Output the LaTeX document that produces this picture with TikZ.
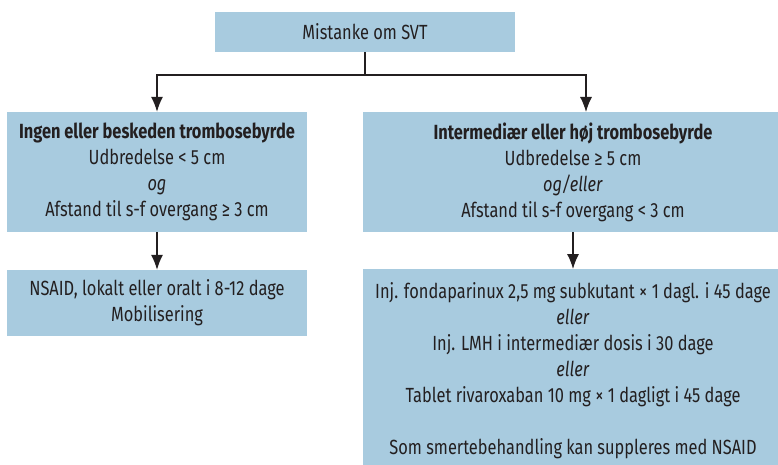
\documentclass[tikz,border=0pt]{standalone}
\usepackage{fontspec}
\setmainfont[FakeStretch=0.8]{Fira Sans}
\usetikzlibrary{arrows.meta}
\definecolor{boksblaa}{RGB}{168,203,223}
\definecolor{tekst}{RGB}{35,31,32}

\begin{document}
\begin{tikzpicture}[x=1pt,y=-1pt,>={Latex[length=15pt,width=12pt]},
  boks/.style={fill=boksblaa,text=tekst,align=center,inner sep=0pt,font=\fontsize{20.5}{26}\selectfont},
  pil/.style={draw=tekst,line width=1.2pt,->}]
\useasboundingbox (0,0) rectangle (778,465);

\node[boks,minimum width=300pt,minimum height=40pt] (svt) at (365,32) {Mistanke om SVT};

\node[boks,minimum width=300pt,minimum height=120pt] (lav) at (157,172)
  {\textbf{Ingen eller beskeden trombosebyrde}\\Udbredelse < 5 cm\\\textit{og}\\Afstand til s-f overgang ≥ 3 cm};
\node[boks,minimum width=420pt,minimum height=120pt] (hoj) at (573,172)
  {\textbf{Intermediær eller høj trombosebyrde}\\Udbredelse ≥ 5 cm\\\textit{og/eller}\\Afstand til s-f overgang < 3 cm};

\node[boks,minimum width=300pt,minimum height=66pt] (nsaid) at (157,303)
  {NSAID, lokalt eller oralt i 8-12 dage\\Mobilisering};
\node[boks,minimum width=420pt,inner ysep=13pt,anchor=north] (beh) at (573,269)
  {Inj. fondaparinux 2,5 mg subkutant × 1 dagl. i 45 dage\\\textit{eller}\\Inj. LMH i intermediær dosis i 30 dage\\\textit{eller}\\Tablet rivaroxaban 10 mg × 1 dagligt i 45 dage\\[26pt]Som smertebehandling kan suppleres med NSAID};

\coordinate (split) at (365,75);
\coordinate (hojind) at (586,112);

\draw[draw=tekst,line width=1.2pt] (svt.south) -- (split);
\draw[pil] (split) -| (lav.north);
\draw[pil] (split) -| (hojind);
\draw[pil] (lav.south) -- (nsaid.north);
\draw[pil] (hoj.south) -- (beh.north);

\end{tikzpicture}
\end{document}
